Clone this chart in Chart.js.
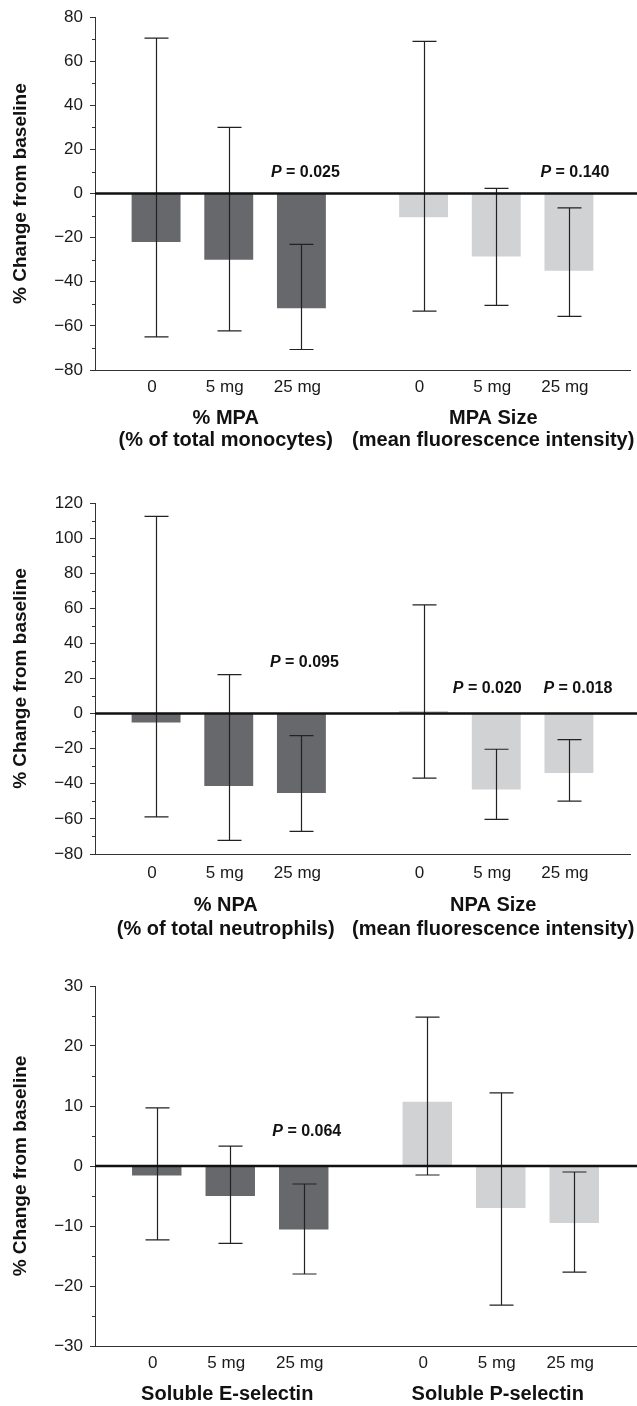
<!DOCTYPE html>
<html>
<head>
<meta charset="utf-8">
<script src="https://cdn.jsdelivr.net/npm/chart.js@4.4.1/dist/chart.umd.min.js"></script>
<style>
  html, body { margin: 0; padding: 0; background: #fff; }
  body { width: 637px; height: 1406px; position: relative; overflow: hidden; }
  .panel { position: absolute; left: 0; width: 637px; }
  canvas { display: block; }
</style>
</head>
<body>
<div class="panel" style="top:0px"><canvas id="chart-mpa" width="637" height="460"></canvas></div>
<div class="panel" style="top:470px"><canvas id="chart-npa" width="637" height="480"></canvas></div>
<div class="panel" style="top:960px"><canvas id="chart-sel" width="637" height="446"></canvas></div>
<script>
// dose under each bar
var doses = ["0", "5 mg", "25 mg"];

// monocyte-platelet aggregates: [group][dose]
var mpaGroups = [["% MPA", "(% of total monocytes)"], ["MPA Size", "(mean fluorescence intensity)"]];
var mpaMean = [[-22, -30, -52], [-10.7, -28.5, -35]];
var mpaLow = [[-65, -62.3, -70.7], [-53.3, -50.7, -55.7]];
var mpaHigh = [[70.5, 30, -23], [69, 2.4, -6.5]];
var mpaP = [[null, null, "0.025"], [null, null, "0.140"]];

// neutrophil-platelet aggregates
var npaGroups = [["% NPA", "(% of total neutrophils)"], ["NPA Size", "(mean fluorescence intensity)"]];
var npaMean = [[-5, -41.2, -45.2], [1.5, -43.2, -33.8]];
var npaLow = [[-58.8, -72.2, -67.1], [-36.8, -60.3, -49.9]];
var npaHigh = [[112.4, 22.2, -12.5], [62, -20.3, -14.8]];
var npaP = [[null, null, "0.095"], [null, "0.020", "0.018"]];

// soluble selectins
var selGroups = [["Soluble E-selectin"], ["Soluble P-selectin"]];
var selMean = [[-1.6, -5, -10.6], [10.7, -7, -9.5]];
var selLow = [[-12.3, -12.9, -18], [-1.5, -23.2, -17.7]];
var selHigh = [[9.7, 3.3, -3], [24.8, 12.2, -1]];
var selP = [[null, null, "0.064"], [null, null, null]];

var groupColors = ["#67686b", "#d1d2d4"];
var FONT = "'Liberation Sans', Arial, Helvetica, sans-serif";

Chart.defaults.font.family = FONT;
Chart.defaults.color = "#1a1a1a";

// draws zero line, minor ticks, error bars, P values and the two rows of x labels
var extras = {
  id: "extras",
  afterDatasetsDraw: function (chart) {
    var o = chart.options.plugins.extras;
    var ctx = chart.ctx;
    var ys = chart.scales.y, xs = chart.scales.x;
    var area = chart.chartArea;
    ctx.save();

    // minor ticks halfway between labelled ones
    ctx.strokeStyle = "#333";
    ctx.lineWidth = 1;
    var t = ys.ticks;
    for (var i = 0; i < t.length - 1; i++) {
      var py = Math.round(ys.getPixelForValue((t[i].value + t[i + 1].value) / 2)) + 0.5;
      ctx.beginPath();
      ctx.moveTo(area.left - 3, py);
      ctx.lineTo(area.left, py);
      ctx.stroke();
    }

    // error bars
    ctx.strokeStyle = "#222";
    ctx.lineWidth = 1.2;
    chart.data.datasets.forEach(function (ds, d) {
      chart.getDatasetMeta(d).data.forEach(function (bar, g) {
        var x = Math.round(bar.x) + 0.5;
        var hi = ys.getPixelForValue(o.high[g][d]);
        var lo = ys.getPixelForValue(o.low[g][d]);
        ctx.beginPath();
        ctx.moveTo(x, hi); ctx.lineTo(x, lo);
        ctx.moveTo(x - 12, hi); ctx.lineTo(x + 12, hi);
        ctx.moveTo(x - 12, lo); ctx.lineTo(x + 12, lo);
        ctx.stroke();
      });
    });

    // zero line
    var y0 = ys.getPixelForValue(0);
    ctx.strokeStyle = "#111";
    ctx.lineWidth = 2.5;
    ctx.beginPath();
    ctx.moveTo(area.left, y0);
    ctx.lineTo(chart.width, y0);
    ctx.stroke();

    // P values
    ctx.fillStyle = "#111";
    ctx.textBaseline = "middle";
    ctx.textAlign = "left";
    chart.data.datasets.forEach(function (ds, d) {
      chart.getDatasetMeta(d).data.forEach(function (bar, g) {
        var p = o.p[g][d];
        if (!p) return;
        var py = ys.getPixelForValue(o.pY[g][d]);
        var rest = " = " + p;
        ctx.font = "italic bold 16px " + FONT;
        var w1 = ctx.measureText("P").width;
        ctx.font = "bold 16px " + FONT;
        var w2 = ctx.measureText(rest).width;
        var x = bar.x + o.pDx[g][d] - (w1 + w2) / 2;
        ctx.font = "italic bold 16px " + FONT;
        ctx.fillText("P", x, py);
        ctx.font = "bold 16px " + FONT;
        ctx.fillText(rest, x + w1, py);
      });
    });

    // dose labels
    ctx.textAlign = "center";
    ctx.font = "17px " + FONT;
    ctx.fillStyle = "#1a1a1a";
    chart.data.datasets.forEach(function (ds, d) {
      chart.getDatasetMeta(d).data.forEach(function (bar) {
        ctx.fillText(ds.label, bar.x - 4, area.bottom + o.doseGap);
      });
    });

    // group labels
    ctx.font = "bold 20px " + FONT;
    ctx.fillStyle = "#111";
    o.groups.forEach(function (lines, g) {
      var gx = xs.getPixelForValue(g) - 3;
      lines.forEach(function (line, k) {
        ctx.fillText(line, gx, area.bottom + o.groupGap + k * o.groupLine);
      });
    });
    ctx.restore();
  }
};

function makeChart(id, groups, mean, low, high, p, cfg) {
  var datasets = doses.map(function (dose, d) {
    return {
      label: dose,
      data: groups.map(function (g, gi) { return mean[gi][d]; }),
      backgroundColor: groupColors,
      borderWidth: 0,
      categoryPercentage: 0.815,
      barPercentage: 0.673
    };
  });
  return new Chart(document.getElementById(id), {
    type: "bar",
    data: { labels: groups.map(function (g) { return g.join(" "); }), datasets: datasets },
    options: {
      responsive: false,
      animation: false,
      layout: { padding: { top: cfg.top, right: cfg.right, left: 0, bottom: 0 } },
      plugins: {
        legend: { display: false },
        tooltip: { enabled: false },
        extras: {
          groups: groups, low: low, high: high, p: p,
          pY: cfg.pY, pDx: cfg.pDx,
          doseGap: cfg.doseGap, groupGap: cfg.groupGap, groupLine: cfg.groupLine
        }
      },
      scales: {
        x: {
          grid: { display: false },
          border: { display: true, color: "#333", width: 1 },
          ticks: { display: false },
          afterFit: function (s) { s.height = cfg.xHeight; }
        },
        y: {
          min: cfg.min,
          max: cfg.max,
          afterFit: function (s) { s.width = 95; },
          grid: { drawOnChartArea: false, drawTicks: true, tickLength: 5, color: "#333" },
          border: { display: true, color: "#333", width: 1 },
          ticks: {
            stepSize: cfg.step,
            padding: 7,
            color: "#1a1a1a",
            font: { size: 17 },
            callback: function (v) { return String(v).replace("-", "\u2212"); }
          },
          title: {
            display: true,
            text: "% Change from baseline",
            color: "#111",
            font: { size: 19, weight: "bold" },
            padding: { top: 9, bottom: 0 }
          }
        }
      }
    },
    plugins: [extras]
  });
}

makeChart("chart-mpa", mpaGroups, mpaMean, mpaLow, mpaHigh, mpaP, {
  top: 15, right: 7, xHeight: 90, min: -80, max: 80, step: 20,
  pY: [[0, 0, 9.6], [0, 0, 9.6]], pDx: [[0, 0, 4], [0, 0, 6]],
  doseGap: 17, groupGap: 48, groupLine: 22
});

makeChart("chart-npa", npaGroups, npaMean, npaLow, npaHigh, npaP, {
  top: 33, right: 7, xHeight: 96, min: -80, max: 120, step: 20,
  pY: [[0, 0, 28.8], [0, 14, 14]], pDx: [[0, 0, 3], [0, -9, 9]],
  doseGap: 19, groupGap: 51, groupLine: 24
});

makeChart("chart-sel", selGroups, selMean, selLow, selHigh, selP, {
  top: 26, right: 1, xHeight: 60, min: -30, max: 30, step: 10,
  pY: [[0, 0, 5.7], [0, 0, 0]], pDx: [[0, 0, 3], [0, 0, 0]],
  doseGap: 17, groupGap: 48, groupLine: 22
});
</script>
</body>
</html>
